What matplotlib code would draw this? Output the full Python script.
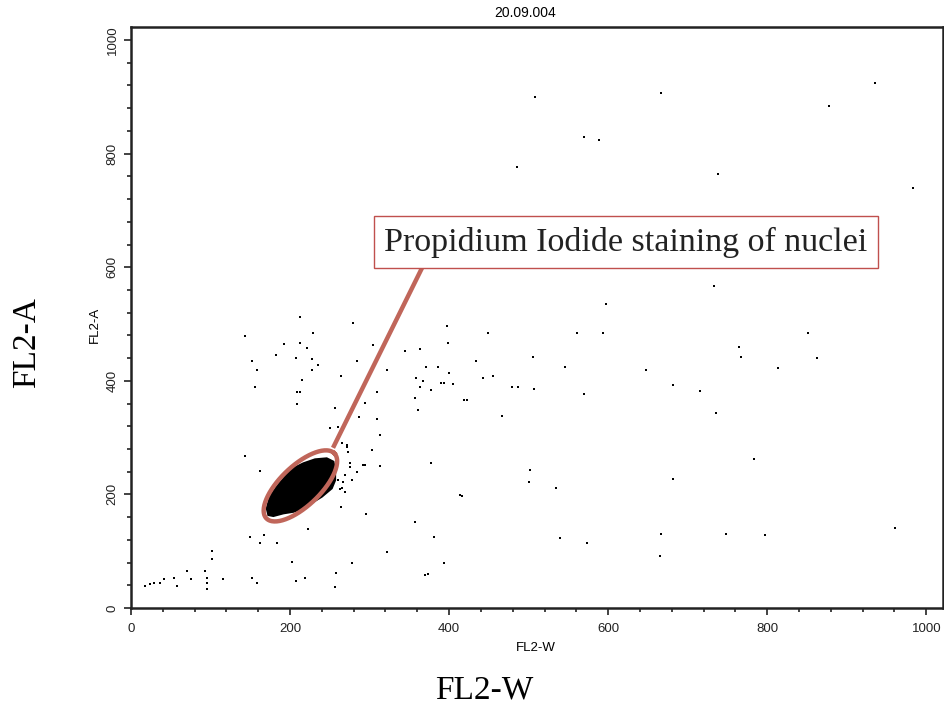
import numpy as np
import matplotlib
matplotlib.use("Agg")
import matplotlib.pyplot as plt
from matplotlib.ticker import MultipleLocator

# ---- data: scattered events (FL2-W, FL2-A) ----
scatter_w = [213, 143, 229, 279, 193, 213, 221, 182, 152, 208, 228, 235, 284, 158, 228,
             304, 322, 264, 215, 156, 209, 213, 309, 209, 257, 294, 309, 260, 250, 313,
             287, 143, 162, 272, 273, 275, 292, 267, 263, 278, 264, 296, 303, 313, 377,
             223, 167, 150, 162, 184, 357, 381, 322, 102, 102, 203, 278, 394, 370, 374,
             258, 207, 219, 257, 152, 158, 116, 95, 96, 95, 93, 70, 75, 54, 58, 42, 36,
             29, 24, 18, 419, 422, 397, 449, 434, 399, 364, 345, 371, 386, 358, 367, 363,
             390, 394, 405, 400, 443, 455, 361, 357, 377, 416,
             265, 271, 275, 265, 269, 260, 294, 284, 269,
             508, 485, 417, 666, 935, 878, 570, 588, 738, 983, 847, 733, 597,
             561, 594, 505, 546, 647, 479, 487, 507, 569, 466, 682, 715, 735, 765, 767,
             851, 862, 813, 783, 501, 682, 540, 573, 667, 665, 748, 797, 961,
             414, 502, 535]
scatter_a = [512, 479, 484, 502, 465, 467, 458, 445, 435, 440, 438, 428, 435, 419, 419,
             463, 419, 408, 401, 389, 380, 380, 380, 359, 352, 361, 333, 319, 317, 305,
             336, 268, 241, 283, 275, 255, 252, 222, 209, 225, 178, 166, 278, 250, 255,
             139, 128, 125, 115, 115, 151, 125, 99, 100, 86, 81, 79, 79, 58, 60,
             62, 48, 53, 37, 53, 44, 51, 53, 44, 33, 65, 65, 51, 53, 39, 51, 44,
             44, 42, 39, 366, 366, 496, 484, 435, 467, 456, 452, 424, 424, 405, 400, 389,
             396, 396, 394, 414, 405, 408, 349, 370, 384, 197,
             290, 287, 249, 211, 205, 225, 252, 240, 234,
             899, 777, 610, 907, 924, 884, 829, 824, 764, 740, 673, 567, 535,
             484, 485, 442, 425, 419, 390, 390, 386, 376, 338, 393, 382, 343, 459, 442,
             484, 440, 422, 262, 222, 228, 124, 115, 131, 92, 131, 128, 141,
             199, 243, 211]

# ---- dense population outline (FL2-W, FL2-A) ----
cluster_w = [170.7, 174.8, 183.3, 193.7, 204.2, 216.8, 231.4, 246.1, 254.5, 256.6,
             256.6, 252.4, 239.9, 229.3, 216.8, 204.2, 191.6, 179.0, 172.7]
cluster_a = [175.5, 196.0, 213.6, 231.0, 246.0, 254.7, 261.7, 263.5, 257.6, 243.0,
             225.0, 210.7, 196.0, 187.0, 175.5, 169.5, 166.7, 162.0, 163.7]

# ---- labels ----
title_text = "20.09.004"
x_label = "FL2-W"
y_label = "FL2-A"
annot_text = "Propidium Iodide staining of nuclei"
x_ticks = [0, 200, 400, 600, 800, 1000]
y_ticks = [0, 200, 400, 600, 800, 1000]

# gate ellipse (centre, half-axis vectors in data units) and leader line
gate_center = (213, 215)
gate_major = (42.8, 57.2)
gate_minor = (17.4, -25.4)
leader_start = (254, 282)
leader_end = (366, 599)

red = "#c0665a"

fig = plt.figure(figsize=(9.45, 7.08), dpi=100)
ax = fig.add_axes([131/945, 1-608/708, (943-131)/945, (608-27)/708])
ax.set_xlim(0, 1021)
ax.set_ylim(0, 1023)

ax.fill(cluster_w, cluster_a, color="black", lw=1.5, ec="black", zorder=3)
ax.plot(scatter_w, scatter_a, ls="none", marker="s", ms=1.9, color="black", mew=0, zorder=3)

t = np.linspace(0, 2*np.pi, 200)
ex = gate_center[0] + np.cos(t)*gate_major[0] + np.sin(t)*gate_minor[0]
ey = gate_center[1] + np.cos(t)*gate_major[1] + np.sin(t)*gate_minor[1]
ax.plot(ex, ey, color=red, lw=3.2, zorder=4)
ax.plot([leader_start[0], leader_end[0]], [leader_start[1], leader_end[1]],
        color=red, lw=3.2, zorder=4, solid_capstyle="butt")

ax.text(626/945, 1-242/708, annot_text, transform=fig.transFigure,
        ha="center", va="center", fontsize=24.5, family="Liberation Serif", color="#222222",
        bbox=dict(boxstyle="square,pad=0.3", fc="white", ec="#c0504d", lw=1.0), zorder=5)

ax.set_xticks(x_ticks)
ax.set_yticks(y_ticks)
ax.xaxis.set_minor_locator(MultipleLocator(40))
ax.yaxis.set_minor_locator(MultipleLocator(40))
ax.tick_params(which="both", direction="out", width=1.2, colors="#222222")
ax.tick_params(which="major", length=5, labelsize=9.5)
ax.tick_params(axis="x", which="major", pad=6)
ax.tick_params(axis="y", which="major", pad=4)
ax.tick_params(which="minor", length=3)
for lab in ax.get_xticklabels():
    lab.set_family("Liberation Sans")
for lab in ax.get_yticklabels():
    lab.set_family("Liberation Sans")
    lab.set_rotation(90)
    lab.set_va("center")
for s in ax.spines.values():
    s.set_linewidth(1.8)
    s.set_color("#222222")

fig.text(525/945, 1-13/708, title_text, ha="center", va="center", fontsize=10,
         family="Liberation Sans")
fig.text(536/945, 1-648/708, x_label, ha="center", va="center", fontsize=9.5,
         family="Liberation Sans")
fig.text(95/945, 1-325/708, y_label, ha="center", va="center", fontsize=9.5,
         family="Liberation Sans", rotation=90)
fig.text(484/945, 1-690/708, x_label, ha="center", va="center", fontsize=24,
         family="Liberation Serif")
fig.text(27/945, 1-343/708, y_label, ha="center", va="center", fontsize=24,
         family="Liberation Serif", rotation=90)

fig.savefig("out.png", dpi=100, facecolor="white")
